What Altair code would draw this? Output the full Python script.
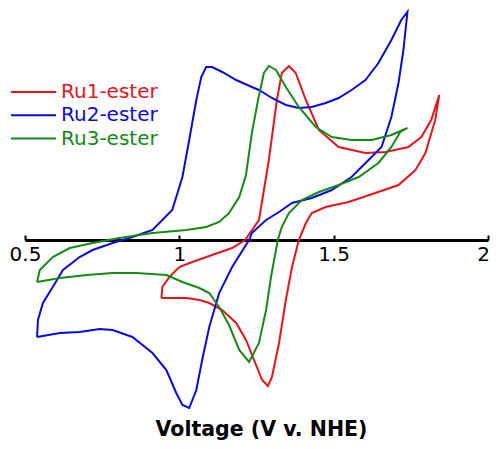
import altair as alt
import pandas as pd

series_names = ["Ru1-ester", "Ru2-ester", "Ru3-ester"]
series_colors = ["#e8141c", "#0a0adc", "#168a16"]
tick_values = [0.5, 1, 1.5, 2]

# Ru1-ester: voltage (V v. NHE) and current (arb. units), in scan order
ru1_v = [0.942, 0.945, 0.968, 1.000, 1.042, 1.106, 1.171, 1.213, 1.258, 1.290,
         1.316, 1.332, 1.355, 1.377, 1.410, 1.452, 1.516, 1.603, 1.668, 1.742,
         1.784, 1.816, 1.842, 1.829, 1.797, 1.765, 1.710, 1.635, 1.548, 1.474,
         1.429, 1.410, 1.387, 1.365, 1.345, 1.323, 1.300, 1.287, 1.268, 1.242,
         1.216, 1.184, 1.139, 1.097, 1.065, 1.023, 0.977, 0.942]
ru1_i = [-2.9, -2.35, -1.85, -1.35, -1.1, -0.75, -0.4, 0.0, 1.0, 4.0,
         7.0, 8.35, 8.7, 8.35, 7.0, 5.5, 4.65, 4.35, 4.4, 4.65,
         5.15, 6.0, 7.25, 6.0, 4.35, 3.5, 2.75, 2.35, 1.9, 1.65,
         1.35, 0.85, 0.0, -1.35, -3.0, -5.15, -6.85, -7.3, -7.0, -6.0,
         -5.0, -4.15, -3.5, -3.15, -3.0, -2.9, -2.9, -2.9]

# Ru2-ester
ru2_v = [0.539, 0.542, 0.558, 0.590, 0.623, 0.677, 0.719, 0.784, 0.848, 0.913,
         0.945, 0.977, 1.010, 1.032, 1.055, 1.071, 1.087, 1.106, 1.139, 1.184,
         1.235, 1.258, 1.300, 1.345, 1.387, 1.429, 1.474, 1.516, 1.558, 1.603,
         1.645, 1.687, 1.719, 1.739, 1.726, 1.710, 1.687, 1.655, 1.613, 1.558,
         1.494, 1.429, 1.365, 1.323, 1.281, 1.235, 1.226, 1.171, 1.129, 1.097,
         1.074, 1.055, 1.032, 1.010, 0.990, 0.958, 0.913, 0.848, 0.784, 0.742,
         0.677, 0.613, 0.539]
ru2_i = [-4.85, -4.0, -3.15, -2.35, -1.5, -0.85, -0.5, -0.15, 0.15, 0.5,
         1.0, 1.5, 3.15, 5.0, 7.0, 8.15, 8.65, 8.65, 8.4, 8.0,
         7.65, 7.5, 7.1, 6.75, 6.6, 6.65, 6.85, 7.1, 7.5, 8.0,
         8.85, 10.0, 11.0, 11.4, 9.5, 7.85, 6.15, 4.65, 4.0, 3.15,
         2.5, 2.1, 1.85, 1.4, 1.0, 0.35, 0.0, -1.35, -2.65, -4.35,
         -6.0, -7.5, -8.4, -8.25, -7.65, -6.5, -5.65, -4.85, -4.5, -4.45,
         -4.6, -4.65, -4.85]

# Ru3-ester
ru3_v = [0.539, 0.548, 0.590, 0.645, 0.719, 0.806, 0.913, 1.023, 1.087, 1.129,
         1.161, 1.194, 1.216, 1.235, 1.255, 1.274, 1.290, 1.313, 1.345, 1.387,
         1.442, 1.494, 1.558, 1.623, 1.687, 1.739, 1.716, 1.687, 1.645, 1.581,
         1.516, 1.452, 1.397, 1.355, 1.332, 1.319, 1.297, 1.281, 1.258, 1.226,
         1.194, 1.161, 1.129, 1.097, 1.065, 1.010, 0.958, 0.861, 0.784, 0.700,
         0.613, 0.539]
ru3_i = [-2.1, -1.5, -0.85, -0.4, -0.15, 0.1, 0.35, 0.5, 0.65, 0.9,
         1.35, 2.15, 3.25, 5.35, 7.0, 8.35, 8.7, 8.5, 7.65, 6.65,
         5.65, 5.15, 5.0, 5.0, 5.25, 5.6, 5.4, 4.65, 3.85, 3.15,
         2.75, 2.4, 2.0, 1.35, 0.65, 0.0, -1.85, -3.5, -5.15, -6.1,
         -5.5, -4.25, -3.35, -2.65, -2.4, -2.1, -1.75, -1.65, -1.65, -1.75,
         -1.9, -2.1]

rows = []
for name, vs, cs in zip(series_names, [ru1_v, ru2_v, ru3_v], [ru1_i, ru2_i, ru3_i]):
    for k, (v, c) in enumerate(zip(vs, cs)):
        rows.append({"series": name, "V": v, "I": c, "step": k})
df = pd.DataFrame(rows)

color_expr = " : ".join(
    f"datum.label === '{n}' ? '{c}'" for n, c in zip(series_names[:-1], series_colors[:-1])
) + f" : '{series_colors[-1]}'"

FONT = "DejaVu Sans"

chart = (
    alt.Chart(df)
    .mark_line(strokeWidth=2)
    .encode(
        x=alt.X(
            "V:Q",
            scale=alt.Scale(domain=[0.5, 2], nice=False, zero=False),
            axis=alt.Axis(
                orient="top", offset=-230, values=tick_values, format="~g",
                labelFlush=False, domainColor="black", domainWidth=3,
                tickColor="black", tickWidth=2, tickSize=5,
                labelBaseline="top", labelPadding=-9, labelFont=FONT,
                labelFontSize=20, labelColor="black", title=None, grid=False,
                labelOffset={"expr": "datum.value == 2 ? -5 : 0"},
            ),
        ),
        y=alt.Y("I:Q", scale=alt.Scale(domain=[-8.75, 11.5], nice=False, zero=False), axis=None),
        color=alt.Color(
            "series:N",
            scale=alt.Scale(domain=series_names, range=series_colors),
            legend=alt.Legend(
                orient="none", legendX=-15, legendY=72, title=None,
                symbolType="stroke", symbolSize=2025, symbolStrokeWidth=2,
                clipHeight=20, rowPadding=3.3, labelOffset=4, padding=0,
                labelFont=FONT, labelFontSize=20, labelLimit=0,
                labelColor={"expr": color_expr},
            ),
        ),
        order=alt.Order("step:Q"),
    )
    .properties(
        width=463,
        height=405,
        autosize=alt.AutoSizeParams(type="none"),
        padding={"left": 17, "top": 2, "right": 2, "bottom": 26},
        title=alt.TitleParams(
            "Voltage (V v. NHE)", orient="bottom", anchor="middle", frame="group",
            font=FONT, fontSize=20.5, fontWeight="bold", color="black", offset=5, dx=5,
        ),
    )
    .configure_view(stroke=None)
)

chart.save("out.html", embed_options={"renderer": "svg", "actions": False})
